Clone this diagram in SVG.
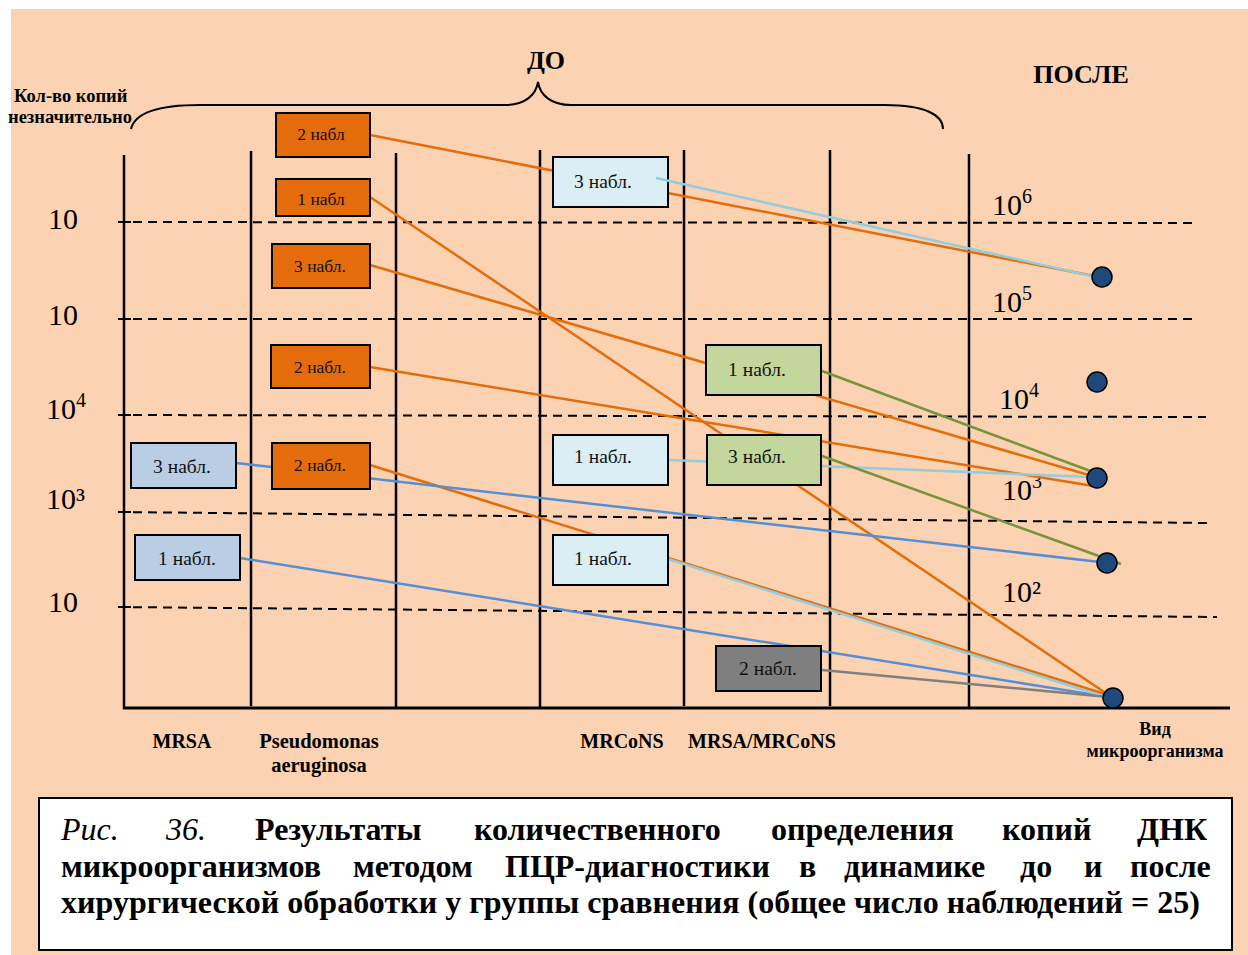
<svg xmlns="http://www.w3.org/2000/svg" width="1248" height="955" viewBox="0 0 1248 955">
<style>
.bg{fill:#FBD3B2}
.v{stroke:#000;stroke-width:2.5}
.d{stroke:#000;stroke-width:2;stroke-dasharray:9 6}
.t{stroke:#000;stroke-width:2}
.box{stroke:#000;stroke-width:2}
.or{fill:#E46C0A}.mr{fill:#B9CDE5}.lb{fill:#DBEEF4}.gr{fill:#C3D69B}.gy{fill:#7F7F7F}
.bt{font-family:"Liberation Serif","Times New Roman",serif;font-size:19.5px;fill:#111;text-anchor:middle}
.bo{font-size:17.5px}
.ax{font-family:"Liberation Serif","Times New Roman",serif;font-size:30px;fill:#000}
.sup{font-size:20px}
.lab{font-family:"Liberation Serif","Times New Roman",serif;font-weight:bold;fill:#000}
.c{fill:none;stroke-width:2.5}
.co{stroke:#E46C0A}.cb{stroke:#558ED5}.cl{stroke:#93CDDD}.cg{stroke:#77933C}.cy{stroke:#808080}
.dot{fill:#1F497D;stroke:#000;stroke-width:1.5}
.cap{font-family:"Liberation Serif","Times New Roman",serif;font-size:32px;font-weight:bold;fill:#000}
</style>
<rect x="0" y="0" width="1248" height="955" fill="#fff"/>
<rect class="bg" x="11" y="9" width="1237" height="946"/>

<g id="grid">
<line class="d" x1="118" y1="222" x2="1194" y2="223"/>
<line class="d" x1="118" y1="319" x2="1196" y2="319"/>
<line class="d" x1="118" y1="415" x2="1206" y2="417"/>
<line class="d" x1="118" y1="512" x2="1208" y2="523"/>
<line class="d" x1="118" y1="607" x2="1217" y2="617"/>
<line class="t" x1="118" y1="222" x2="131" y2="222"/>
<line class="t" x1="118" y1="319" x2="131" y2="319"/>
<line class="t" x1="118" y1="415" x2="131" y2="415"/>
<line class="t" x1="118" y1="512" x2="131" y2="512"/>
<line class="t" x1="118" y1="607" x2="131" y2="607"/>
<line class="v" x1="124" y1="155" x2="124" y2="709"/>
<line class="v" x1="251" y1="151" x2="251" y2="706"/>
<line class="v" x1="396" y1="153" x2="396" y2="708"/>
<line class="v" x1="540" y1="150" x2="540" y2="708"/>
<line class="v" x1="684" y1="150" x2="684" y2="706"/>
<line class="v" x1="830" y1="150" x2="830" y2="706"/>
<line class="v" x1="969" y1="154" x2="969" y2="708"/>
<line x1="123" y1="708" x2="1230" y2="708" stroke="#000" stroke-width="3"/>
<path d="M131,129 C135,112 160,105 200,105 L505,105 C525,105 536,95 538,82 C540,95 551,105 571,105 L885,105 C925,105 943,115 943,129" fill="none" stroke="#000" stroke-width="2"/>
</g>

<g id="axis-labels">
<text class="ax" x="48" y="229">10</text>
<text class="ax" x="48" y="325">10</text>
<text class="ax" x="46" y="419">10<tspan class="sup" dy="-12">4</tspan></text>
<text class="ax" x="46" y="509">10³</text>
<text class="ax" x="48" y="612">10</text>
<text class="ax" x="992" y="215">10<tspan class="sup" dy="-12">6</tspan></text>
<text class="ax" x="992" y="312">10<tspan class="sup" dy="-12">5</tspan></text>
<text class="ax" x="999" y="409">10<tspan class="sup" dy="-12">4</tspan></text>
<text class="ax" x="1002" y="500">10<tspan class="sup" dy="-12">3</tspan></text>
<text class="ax" x="1002" y="602">10²</text>
<text class="lab" x="546" y="69" font-size="26" text-anchor="middle">ДО</text>
<text class="lab" x="1081" y="83" font-size="26" text-anchor="middle">ПОСЛЕ</text>
<text class="lab" x="14" y="102" font-size="18.5">Кол-во копий</text>
<text class="lab" x="8" y="123" font-size="18.5">незначительно</text>
<text class="lab" x="182" y="748" font-size="20" text-anchor="middle">MRSA</text>
<text class="lab" x="319" y="748" font-size="20.5" text-anchor="middle">Pseudomonas</text>
<text class="lab" x="319" y="772" font-size="20.5" text-anchor="middle">aeruginosa</text>
<text class="lab" x="622" y="748" font-size="20" text-anchor="middle">MRCoNS</text>
<text class="lab" x="762" y="748" font-size="20" text-anchor="middle">MRSA/MRCoNS</text>
<text class="lab" x="1155" y="735" font-size="18" text-anchor="middle">Вид</text>
<text class="lab" x="1155" y="757" font-size="18" text-anchor="middle">микроорганизма</text>
</g>

<g id="connectors">
<line class="c co" x1="370" y1="135" x2="1094" y2="276"/>
<line class="c co" x1="370" y1="197" x2="1110" y2="696"/>
<line class="c co" x1="370" y1="265" x2="1092" y2="476"/>
<line class="c co" x1="370" y1="367" x2="1093" y2="486"/>
<line class="c co" x1="370" y1="465" x2="1108" y2="695"/>
<line class="c cb" x1="236" y1="463" x2="1100" y2="562"/>
<line class="c cb" x1="240" y1="558" x2="1108" y2="697"/>
<line class="c cl" x1="668" y1="460" x2="1090" y2="477"/>
<line class="c cl" x1="668" y1="559" x2="1106" y2="697"/>
<line class="c cg" x1="822" y1="371" x2="1093" y2="472"/>
<line class="c cg" x1="822" y1="456" x2="1121" y2="564"/>
<line class="c cy" x1="822" y1="670" x2="1108" y2="697"/>
</g>

<g id="n1"><rect class="box or" x="276" y="113" width="94" height="44"/><text class="bt bo" x="321" y="140">2 набл</text></g>
<g id="n2"><rect class="box or" x="276" y="179" width="94" height="37"/><text class="bt bo" x="321" y="205">1 набл</text></g>
<g id="n3"><rect class="box or" x="272" y="244" width="98" height="44"/><text class="bt bo" x="320" y="272">3 набл.</text></g>
<g id="n4"><rect class="box or" x="271" y="345" width="99" height="43"/><text class="bt bo" x="320" y="373">2 набл.</text></g>
<g id="n5"><rect class="box or" x="272" y="443" width="98" height="46"/><text class="bt bo" x="320" y="471">2 набл.</text></g>
<g id="n6"><rect class="box mr" x="131" y="443" width="105" height="45"/><text class="bt" x="182" y="473">3 набл.</text></g>
<g id="n7"><rect class="box mr" x="135" y="535" width="105" height="45"/><text class="bt" x="187" y="565">1 набл.</text></g>
<g id="n8"><rect class="box lb" x="553" y="157" width="115" height="50"/><text class="bt" x="603" y="188">3 набл.</text></g>
<g id="n9"><rect class="box lb" x="553" y="435" width="115" height="50"/><text class="bt" x="603" y="463">1 набл.</text></g>
<g id="n10"><rect class="box lb" x="553" y="535" width="115" height="50"/><text class="bt" x="603" y="565">1 набл.</text></g>
<g id="n11"><rect class="box gr" x="706" y="345" width="115" height="50"/><text class="bt" x="757" y="376">1 набл.</text></g>
<g id="n12"><rect class="box gr" x="707" y="435" width="114" height="50"/><text class="bt" x="757" y="463">3 набл.</text></g>
<g id="n13"><rect class="box gy" x="716" y="646" width="105" height="45"/><text class="bt" x="768" y="675">2 набл.</text></g>

<g id="connectors-top">
<line class="c cl" x1="656" y1="178" x2="1096" y2="277"/>
</g>

<g id="after-points">
<circle class="dot" cx="1102" cy="277" r="10"/>
<circle class="dot" cx="1097" cy="382" r="10"/>
<circle class="dot" cx="1097" cy="478" r="10"/>
<circle class="dot" cx="1107" cy="563" r="10"/>
<circle class="dot" cx="1113" cy="698" r="10"/>
</g>

<g id="caption">
<rect x="39" y="798" width="1193" height="152" fill="#fff" stroke="#000" stroke-width="2"/>
<text class="cap" y="840"><tspan x="61" font-style="italic" font-weight="normal">Рис.</tspan><tspan x="166" font-style="italic" font-weight="normal">36.</tspan><tspan x="255">Результаты</tspan><tspan x="474">количественного</tspan><tspan x="771">определения</tspan><tspan x="1002">копий</tspan><tspan x="1137">ДНК</tspan></text>
<text class="cap" y="877"><tspan x="61">микроорганизмов</tspan><tspan x="353">методом</tspan><tspan x="505">ПЦР-диагностики</tspan><tspan x="799">в</tspan><tspan x="844">динамике</tspan><tspan x="1020">до</tspan><tspan x="1084">и</tspan><tspan x="1130">после</tspan></text>
<text class="cap" x="61" y="913" textLength="1139" lengthAdjust="spacing">хирургической обработки у группы сравнения (общее число наблюдений = 25)</text>
</g>
</svg>
